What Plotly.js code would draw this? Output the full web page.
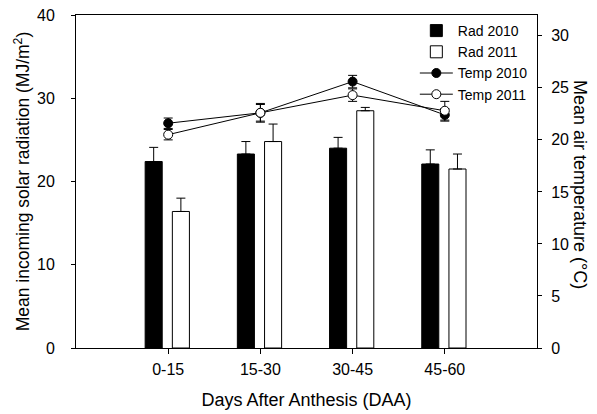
<!DOCTYPE html>
<html><head><meta charset="utf-8">
<script src="https://cdn.plot.ly/plotly-3.0.1.min.js"></script>
<style>html,body{margin:0;padding:0;background:#fff}#c{width:597px;height:414px}</style>
</head><body><div id="c"></div>
<script>
const categories = ["0-15", "15-30", "30-45", "45-60"];
const rad2010 = [22.4, 23.3, 24.0, 22.1];
const rad2010Err = [1.7, 1.5, 1.3, 1.7];
const rad2011 = [16.4, 24.8, 28.5, 21.5];
const rad2011Err = [1.6, 2.1, 0.4, 1.8];
const temp2010 = [21.6, 22.6, 25.6, 22.4];
const temp2010Err = [0.5, 0.8, 0.6, 0.6];
const temp2011 = [20.5, 22.6, 24.3, 22.8];
const temp2011Err = [0.5, 0.9, 0.6, 0.9];

const font = "Liberation Sans, Arial, sans-serif";
const traces = [
  {type:"bar", name:"Rad 2010", x:categories, y:rad2010, yaxis:"y",
   width:0.185, offset:-0.25,
   marker:{color:"#000", line:{color:"#000", width:1}},
   error_y:{type:"data", array:rad2010Err, arrayminus:rad2010Err.map(()=>0), symmetric:false, color:"#000", thickness:1, width:4.5}},
  {type:"bar", name:"Rad 2011", x:categories, y:rad2011, yaxis:"y",
   width:0.185, offset:0.045,
   marker:{color:"#fff", line:{color:"#000", width:1}},
   error_y:{type:"data", array:rad2011Err, arrayminus:rad2011Err.map(()=>0), symmetric:false, color:"#000", thickness:1, width:4.5}},
  {type:"scatter", mode:"lines+markers", name:"Temp 2010", x:categories, y:temp2010, yaxis:"y2",
   line:{color:"#000", width:1}, marker:{symbol:"circle", size:9, color:"#000", line:{color:"#000", width:1}},
   error_y:{type:"data", array:temp2010Err, color:"#000", thickness:1, width:4.5}},
  {type:"scatter", mode:"lines+markers", name:"Temp 2011", x:categories, y:temp2011, yaxis:"y2",
   line:{color:"#000", width:1}, marker:{symbol:"circle", size:9, color:"#fff", line:{color:"#000", width:1}},
   error_y:{type:"data", array:temp2011Err, color:"#000", thickness:1, width:4.5}}
];

const layout = {
  width:597, height:414,
  margin:{l:76, r:60, t:15, b:66},
  paper_bgcolor:"#fff", plot_bgcolor:"#fff",
  font:{family:font, size:16, color:"#000"},
  showlegend:true,
  legend:{x:0.735, y:1.0, xanchor:"left", yanchor:"top", bgcolor:"rgba(0,0,0,0)",
          font:{family:font, size:14, color:"#000"}, tracegroupgap:0, itemwidth:33},
  xaxis:{type:"category", range:[-1,4], showline:true, linecolor:"#000", linewidth:1, mirror:true,
         ticks:"outside", ticklen:5, tickcolor:"#000", showgrid:false, zeroline:false,
         ticklabelstandoff:2, tickfont:{family:font, size:16},
         title:{text:"Days After Anthesis (DAA)", font:{family:font, size:18}, standoff:16}},
  yaxis:{range:[0,40], dtick:10, showline:true, linecolor:"#000", linewidth:1,
         ticks:"outside", ticklen:4, tickcolor:"#000", showgrid:false, zeroline:false,
         ticklabelstandoff:13, tickfont:{family:font, size:16},
         title:{text:"Mean incoming solar radiation (MJ/m<sup>2</sup>)", font:{family:font, size:17.5}, standoff:2}},
  yaxis2:{overlaying:"y", side:"right", range:[0,32], dtick:5, showline:true, linecolor:"#000", linewidth:1,
          ticks:"outside", ticklen:4, tickcolor:"#000", showgrid:false, zeroline:false,
          ticklabelstandoff:6, tickfont:{family:font, size:16}},
  annotations:[{text:"Mean air temperature (°C)", textangle:90, xref:"paper", yref:"paper",
                x:1.093, y:0.49, xanchor:"center", yanchor:"middle", showarrow:false,
                font:{family:font, size:18, color:"#000"}}]
};
Plotly.newPlot("c", traces, layout, {displayModeBar:false, staticPlot:true});
</script></body></html>
